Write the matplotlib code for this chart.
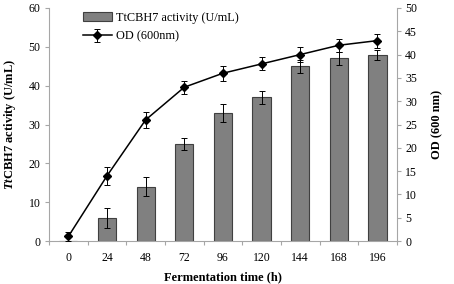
import matplotlib.pyplot as plt
import numpy as np

plt.rcParams['font.family'] = ['Liberation Serif', 'DejaVu Serif']
plt.rcParams['mathtext.fontset'] = 'custom'
plt.rcParams['mathtext.rm'] = 'Liberation Serif'
plt.rcParams['mathtext.bf'] = 'Liberation Serif:bold'
plt.rcParams['mathtext.bfit'] = 'Liberation Serif:italic:bold'

times = ['0', '24', '48', '72', '96', '120', '144', '168', '196']
activity = [0, 6, 14, 25, 33, 37, 45, 47, 48]
activity_err = [0, 2.6, 2.4, 1.5, 2.4, 1.7, 1.7, 1.6, 1.3]
od = [1, 14, 26, 33, 36, 38, 40, 42, 43]
od_err = [1.0, 1.9, 1.75, 1.4, 1.6, 1.4, 1.6, 1.4, 1.5]

x = np.arange(len(times))
spine_col = '#a6a6a6'

fig = plt.figure(figsize=(4.54, 2.84), dpi=100)
ax = fig.add_axes([0.108, 0.151, 0.766, 0.821])
ax2 = ax.twinx()

ax.bar(x, activity, width=0.47, color='#808080', edgecolor='#404040', linewidth=0.8,
       yerr=activity_err, error_kw=dict(ecolor='black', elinewidth=0.7, capsize=2.5, capthick=0.7),
       label='TtCBH7 activity (U/mL)', zorder=2)
ax2.errorbar(x, od, yerr=od_err, color='black', linewidth=1.1, marker='D', markersize=4.5,
             ecolor='black', elinewidth=0.7, capsize=2.5, capthick=0.7, label='OD (600nm)')

ax.set_xlim(-0.5, len(times) - 0.5)
ax.set_ylim(0, 60)
ax2.set_ylim(0, 50)
ax.set_yticks(np.arange(0, 61, 10))
ax2.set_yticks(np.arange(0, 51, 5))
ax.set_xticks(x)
ax.set_xticklabels(times)
ax.set_xticks(np.arange(-0.5, len(times), 1), minor=True)

for a in (ax, ax2):
    a.spines['top'].set_visible(False)
    for s in ('left', 'right', 'bottom'):
        a.spines[s].set_color(spine_col)
        a.spines[s].set_linewidth(0.8)
    a.tick_params(axis='y', colors='black', labelsize=8.5, length=3, width=0.8, color=spine_col, pad=3)
ax.spines['right'].set_visible(False)
ax2.spines['left'].set_visible(False)
ax2.spines['bottom'].set_visible(False)
ax.tick_params(axis='x', which='major', length=0, labelsize=8.5, pad=8)
ax.tick_params(axis='x', which='minor', length=3, width=0.8, color=spine_col)

ax.set_xlabel('Fermentation time (h)', fontsize=9, fontweight='bold', labelpad=5)
ax.set_ylabel(r'$\mathbfit{Tt}$CBH7 activity (U/mL)', fontsize=9, fontweight='bold', labelpad=8)
ax2.set_ylabel('OD (600 nm)', fontsize=9, fontweight='bold', rotation=90, labelpad=10)

h1, l1 = ax.get_legend_handles_labels()
h2, l2 = ax2.get_legend_handles_labels()
ax.legend(h1 + h2, l1 + l2, loc='upper left', bbox_to_anchor=(0.065, 1.03), frameon=False,
          fontsize=8.8, handlelength=2.4, handletextpad=0.3, labelspacing=0.55)

fig.savefig('out.png', dpi=100)
